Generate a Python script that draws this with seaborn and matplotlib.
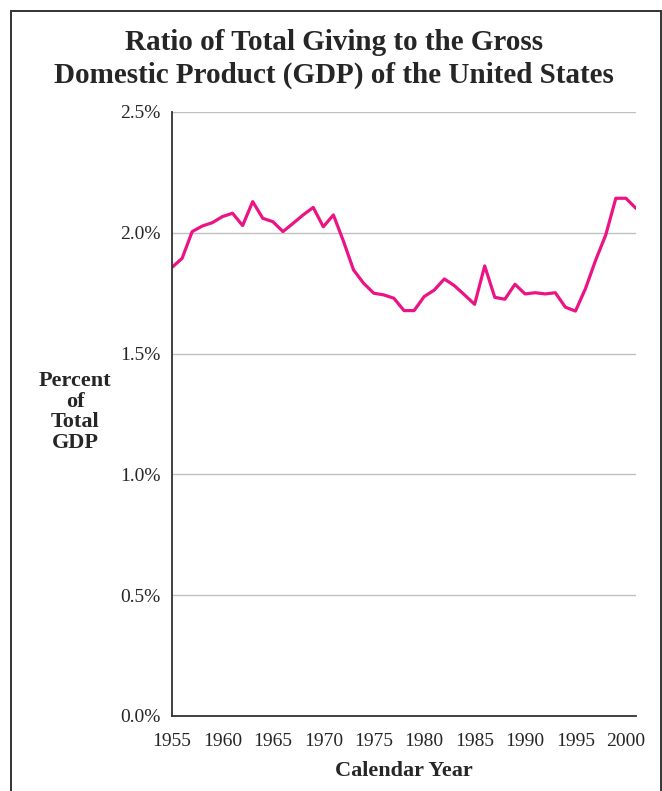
import numpy as np
import pandas as pd
import matplotlib
matplotlib.use("Agg")
import matplotlib.pyplot as plt
import seaborn as sns
from matplotlib.patches import Rectangle

# Data (percent of GDP)
years = list(range(1955, 2002))
giving_pct = [1.857, 1.894, 2.005, 2.028, 2.042, 2.067, 2.081, 2.030, 2.129, 2.060,
              2.046, 2.005, 2.039, 2.074, 2.105, 2.025, 2.074, 1.965, 1.846, 1.791,
              1.750, 1.743, 1.729, 1.678, 1.678, 1.736, 1.763, 1.809, 1.781, 1.743,
              1.704, 1.863, 1.733, 1.725, 1.787, 1.747, 1.752, 1.747, 1.752, 1.692,
              1.676, 1.770, 1.887, 1.991, 2.143, 2.143, 2.101]
y_ticks = [0.0, 0.5, 1.0, 1.5, 2.0, 2.5]
label_years = [1955, 1960, 1965, 1970, 1975, 1980, 1985, 1990, 1995, 2000]

df = pd.DataFrame({'Year': years, 'Giving': giving_pct})

sns.set_style("white")
plt.rcParams['font.family'] = ['Liberation Serif', 'DejaVu Serif']

fig = plt.figure(figsize=(6.62, 7.91), dpi=100)
ax = fig.add_axes([172/662, 1 - 716/791, (636 - 172)/662, (716 - 112)/791])

sns.lineplot(data=df, x='Year', y='Giving', ax=ax, color='#EC1384', linewidth=2.3)

ax.set_xlim(1955, 2001)
ax.set_ylim(0, 2.5)
ax.set_yticks(y_ticks)
ax.set_yticklabels(['%.1f%%' % v for v in y_ticks], fontsize=14)
ax.set_xticks(years)
ax.set_xticklabels([str(y) if y in label_years else '' for y in years], fontsize=14)
ax.tick_params(axis='both', which='major', direction='out', length=4, width=1,
               color='#333333', pad=4)
ax.tick_params(axis='x', pad=8)

ax.yaxis.grid(True, color='#c0c0c0', linewidth=1)
ax.set_axisbelow(True)
for s in ['top', 'right']:
    ax.spines[s].set_visible(False)
for s in ['left', 'bottom']:
    ax.spines[s].set_color('#333333')
    ax.spines[s].set_linewidth(1.3)

ax.set_xlabel('Calendar Year', fontsize=16, fontweight='bold', labelpad=8)
ax.set_ylabel('')
fig.text(75/662, 1 - 412/791, 'Percent\nof\nTotal\nGDP', ha='center', va='center',
         fontsize=16, fontweight='bold', linespacing=1.05)

fig.text(0.505, 1 - 59/791, 'Ratio of Total Giving to the Gross\nDomestic Product (GDP) of the United States',
         ha='center', va='center', fontsize=21, fontweight='bold', linespacing=1.3)

# outer frame
fig.patches.append(Rectangle((11/662, -0.05), 650/662, 1 - 11/791 + 0.05,
                             transform=fig.transFigure, fill=False,
                             edgecolor='#333333', linewidth=1.4))

fig.savefig('out.png', dpi=100)
